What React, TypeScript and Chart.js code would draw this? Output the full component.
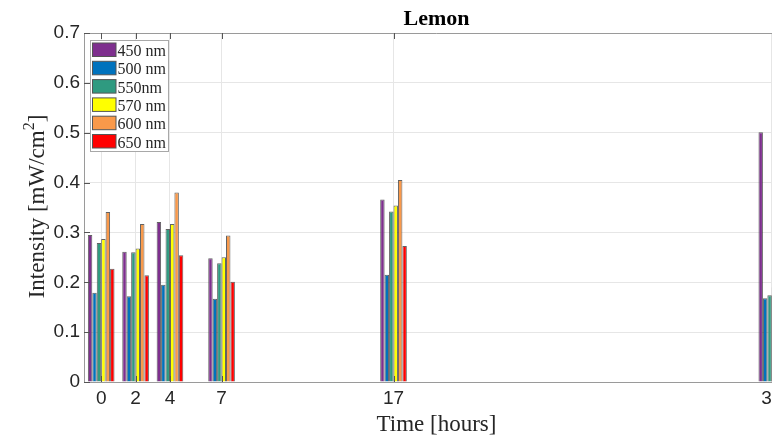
import React, { useEffect, useRef } from 'react';
import { Chart, registerables } from 'chart.js';

Chart.register(...registerables);

// ---- data ----
const times = [0, 2, 4, 7, 17, 39];
const xTickValues = [0, 2, 4, 7, 17, 39];
const yTickValues = [0, 0.1, 0.2, 0.3, 0.4, 0.5, 0.6, 0.7];
const seriesLabels = ['450 nm', '500 nm', '550nm', '570 nm', '600 nm', '650 nm'];
const nm450 = [0.295, 0.261, 0.321, 0.248, 0.366, 0.501];
const nm500 = [0.179, 0.172, 0.195, 0.167, 0.215, 0.168];
const nm550 = [0.279, 0.260, 0.307, 0.238, 0.342, 0.174];
const nm570 = [0.287, 0.268, 0.317, 0.250, 0.354, 0.190];
const nm600 = [0.341, 0.317, 0.380, 0.294, 0.405, 0.230];
const nm650 = [0.227, 0.214, 0.254, 0.201, 0.273, 0.160];
const seriesValues = [nm450, nm500, nm550, nm570, nm600, nm650];
const seriesColors = ['#7E2F8E', '#0072BD', '#2F9A80', '#FFFF00', '#F9994A', '#FF0000'];

const chartTitle = 'Lemon';
const xTitle = 'Time [hours]';
const yTitleMain = 'Intensity [mW/cm';
const yTitleSup = '2';
const yTitleEnd = ']';

const SERIF = '"Liberation Serif", "Times New Roman", serif';
const SANS = '"Liberation Sans", Arial, sans-serif';
const TEXT = '#262626';

const decorPlugin = {
  id: 'decor',
  afterDatasetsDraw(chart: any) {
    const { ctx, chartArea } = chart;
    const { left, right, top, bottom } = chartArea;
    const xs = chart.scales.x;
    const ys = chart.scales.y;
    ctx.save();
    ctx.strokeStyle = '#9a9a9a';
    ctx.lineWidth = 1;
    ctx.beginPath();
    ctx.moveTo(left, Math.round(top) + 0.5);
    ctx.lineTo(right, Math.round(top) + 0.5);
    ctx.moveTo(Math.round(right) + 0.5, top);
    ctx.lineTo(Math.round(right) + 0.5, bottom);
    ctx.stroke();
    // inward ticks
    ctx.strokeStyle = '#555';
    ctx.beginPath();
    xTickValues.forEach((v) => {
      const px = Math.round(xs.getPixelForValue(v)) + 0.5;
      ctx.moveTo(px, bottom);
      ctx.lineTo(px, bottom - 6);
      ctx.moveTo(px, top);
      ctx.lineTo(px, top + 6);
    });
    yTickValues.forEach((v) => {
      const py = Math.round(ys.getPixelForValue(v)) + 0.5;
      ctx.moveTo(left, py);
      ctx.lineTo(left + 6, py);
      ctx.moveTo(right, py);
      ctx.lineTo(right - 6, py);
    });
    ctx.stroke();
    ctx.restore();
  },
  afterDraw(chart: any) {
    const { ctx, chartArea } = chart;
    const cx = (chartArea.left + chartArea.right) / 2;
    const cy = (chartArea.top + chartArea.bottom) / 2;
    ctx.save();
    ctx.fillStyle = '#000';
    ctx.textAlign = 'center';
    ctx.textBaseline = 'alphabetic';
    ctx.font = 'bold 22px ' + SERIF;
    ctx.fillText(chartTitle, cx, 25);
    ctx.fillStyle = TEXT;
    ctx.font = '23px ' + SERIF;
    ctx.fillText(xTitle, cx, 431);
    // y title with superscript
    ctx.translate(43.5, cy - 1);
    ctx.rotate(-Math.PI / 2);
    ctx.textAlign = 'left';
    ctx.font = '23px ' + SERIF;
    const wMain = ctx.measureText(yTitleMain).width;
    const wEnd = ctx.measureText(yTitleEnd).width;
    ctx.font = '16px ' + SERIF;
    const wSup = ctx.measureText(yTitleSup).width;
    const total = wMain + wSup + wEnd;
    const x0 = -total / 2;
    ctx.font = '23px ' + SERIF;
    ctx.fillText(yTitleMain, x0, 0);
    ctx.font = '16px ' + SERIF;
    ctx.fillText(yTitleSup, x0 + wMain, -10);
    ctx.font = '23px ' + SERIF;
    ctx.fillText(yTitleEnd, x0 + wMain + wSup, 0);
    ctx.restore();

    // legend
    ctx.save();
    const bx = 90.5, by = 40.5, bw = 78, bh = 111;
    ctx.fillStyle = '#fff';
    ctx.fillRect(bx, by, bw, bh);
    ctx.strokeStyle = '#a8a8a8';
    ctx.lineWidth = 1;
    ctx.strokeRect(bx, by, bw, bh);
    chart.data.datasets.forEach((ds: any, i: number) => {
      const sy = 43 + i * 18.3;
      ctx.fillStyle = ds.backgroundColor;
      ctx.fillRect(92.5, sy, 23.5, 13.5);
      ctx.strokeStyle = '#555';
      ctx.strokeRect(92.5, sy, 23.5, 13.5);
      ctx.fillStyle = TEXT;
      ctx.font = '16px ' + SERIF;
      ctx.textAlign = 'left';
      ctx.textBaseline = 'alphabetic';
      ctx.fillText(ds.label, 117.5, sy + 13);
    });
    ctx.restore();
  },
};

export default function App() {
  const ref = useRef<HTMLCanvasElement | null>(null);
  useEffect(() => {
    if (!ref.current) return;
    const datasets = seriesValues.map((vals, i) => ({
      label: seriesLabels[i],
      data: times.map((t, j) => ({ x: t, y: vals[j] })),
      backgroundColor: seriesColors[i],
      borderColor: 'rgba(45,45,45,0.75)',
      borderWidth: 1,
      categoryPercentage: 0.775,
      barPercentage: 1,
    }));
    const chart = new Chart(ref.current, {
      type: 'bar',
      data: { datasets },
      plugins: [decorPlugin],
      options: {
        animation: false,
        responsive: false,
        devicePixelRatio: 1,
        layout: { padding: { top: 33, right: 41, left: 0, bottom: 0 } },
        plugins: {
          legend: { display: false },
          title: { display: false },
          tooltip: { enabled: false },
        },
        scales: {
          x: {
            type: 'linear',
            min: -1,
            max: 40,
            offset: false,
            afterBuildTicks: (s: any) => {
              s.ticks = xTickValues.map((v) => ({ value: v }));
            },
            afterFit: (s: any) => {
              s.height = 58;
            },
            grid: { color: '#e6e6e6', drawTicks: false, offset: false },
            border: { display: true, color: '#9a9a9a' },
            ticks: {
              autoSkip: false,
              maxRotation: 0,
              padding: 5,
              color: TEXT,
              font: { family: SANS, size: 19 },
              callback: (v: any) => String(v),
            },
          },
          y: {
            type: 'linear',
            min: 0,
            max: 0.7,
            afterBuildTicks: (s: any) => {
              s.ticks = yTickValues.map((v) => ({ value: v }));
            },
            afterFit: (s: any) => {
              s.width = 84;
            },
            grid: { color: '#e6e6e6', drawTicks: false },
            border: { display: true, color: '#9a9a9a' },
            ticks: {
              padding: 4,
              color: TEXT,
              font: { family: SANS, size: 19 },
              callback: (v: any) => (Number(v) === 0 ? '0' : Number(v).toFixed(1)),
            },
          },
        },
      } as any,
    });
    return () => chart.destroy();
  }, []);
  return (
    <div
      style={{
        position: 'absolute',
        left: 0,
        top: 0,
        width: 772,
        height: 440,
        overflow: 'hidden',
        background: '#fff',
      }}
    >
      <canvas ref={ref} width={830} height={440} style={{ display: 'block', width: 830, height: 440 }} />
    </div>
  );
}
